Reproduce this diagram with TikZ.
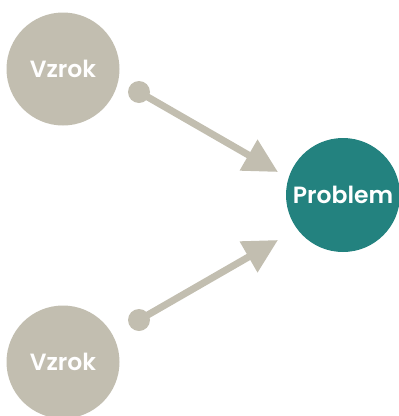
\documentclass[tikz,border=0pt]{standalone}
\usepackage{fontspec}
\setmainfont{Poppins}[BoldFont={Poppins SemiBold}]
\usetikzlibrary{arrows.meta}
\definecolor{stone}{RGB}{194,190,176}
\definecolor{teal}{RGB}{35,130,127}
\begin{document}
\begin{tikzpicture}[x=1pt,y=-1pt,
  cause/.style={circle,fill=stone,minimum size=113pt,inner sep=0pt,
    text=white,font=\fontsize{23.5}{28}\selectfont\bfseries},
  effect/.style={circle,fill=teal,minimum size=114pt,inner sep=0pt,
    text=white,font=\fontsize{23.5}{28}\selectfont\bfseries},
  dot/.style={circle,fill=stone,minimum size=22pt,inner sep=0pt},
  link/.style={draw=stone,line width=7pt,-{Triangle[length=34pt,width=34pt]}}]
  \useasboundingbox (0,0) rectangle (399,416);
  % cause and effect circles
  \node[cause]  (c1) at (63,69)   {Vzrok};
  \node[cause]  (c2) at (63,362)  {Vzrok};
  \node[effect] (p)  at (343,195) {Problem};
  % arrow start dots and arrow tips
  \node[dot] (s1) at (139,92)  {};
  \node[dot] (s2) at (139,320) {};
  \coordinate (t1) at (278,172);
  \coordinate (t2) at (278,240);
  \draw[link] (s1.center) -- (t1);
  \draw[link] (s2.center) -- (t2);
\end{tikzpicture}
\end{document}
